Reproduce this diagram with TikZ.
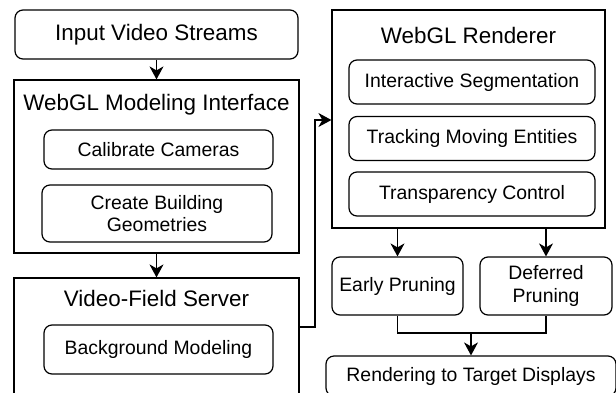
\documentclass[tikz,border=0pt]{standalone}
\usepackage{fontspec}
\setmainfont{Liberation Sans}
\usetikzlibrary{arrows.meta,positioning}

\begin{document}
\begin{tikzpicture}[
            x=1pt, y=-1pt, line width=1.2pt,
            panel/.style={draw, rectangle, inner sep=0pt},
            stagebox/.style={draw, rectangle, rounded corners=8pt, align=center, inner sep=0pt, font=\fontsize{19.4}{22.4}\selectfont},
            headtext/.style={inner sep=0pt, font=\fontsize{22.4}{26}\selectfont},
            flow/.style={-{Stealth[length=13pt, width=14pt, inset=4pt]}}
        ]
            \useasboundingbox (0,0) rectangle (616,392);
            \clip (0,0) rectangle (616,392);

            % left column
            \node[stagebox, minimum width=283pt, minimum height=49pt, font=\fontsize{22.4}{26}\selectfont] (in) at (156.5,34.5) {Input Video Streams};
            \node[panel, minimum width=285pt, minimum height=173pt] (mi) at (156.5,166.5) {};
            \node[headtext] (mit) at (156.5,105) {WebGL Modeling Interface};
            \node[stagebox, minimum width=229pt, minimum height=39pt] (cc) at (158.5,149.5) {Calibrate Cameras};
            \node[stagebox, minimum width=230pt, minimum height=57pt] (bg) at (157,213.5) {Create Building\\Geometries};
            \node[panel, minimum width=285pt, minimum height=124pt] (vs) at (156.5,340) {};
            \node[headtext] (vst) at (156.5,298) {Video-Field Server};
            \node[stagebox, minimum width=229pt, minimum height=49pt] (bm) at (158.5,349.5) {Background Modeling};

            % right column
            \node[panel, minimum width=273pt, minimum height=218pt] (wr) at (468.5,119) {};
            \node[headtext] (wrt) at (468.5,35) {WebGL Renderer};
            \node[stagebox, minimum width=246pt, minimum height=44pt] (is) at (472,82) {Interactive Segmentation};
            \node[stagebox, minimum width=246pt, minimum height=44pt] (tm) at (472,138.5) {Tracking Moving Entities};
            \node[stagebox, minimum width=246pt, minimum height=44pt] (tc) at (472,194) {Transparency Control};
            \node[stagebox, minimum width=131pt, minimum height=58pt] (ep) at (397.5,286) {Early Pruning};
            \node[stagebox, minimum width=132pt, minimum height=58pt] (dp) at (546,286) {Deferred\\Pruning};
            \node[stagebox, minimum width=290pt, minimum height=40pt] (rt) at (471,376) {Rendering to Target Displays};

            \coordinate (up) at (315,120);
            \coordinate (join) at (471,333);

            \draw[flow] (in) -- (mi);
            \draw[flow] (mi) -- (vs);
            \draw[flow] ([yshift=13pt]vs.east) -| (up) -- (up -| wr.west);
            \draw[flow] (wr.south -| ep) -- (ep);
            \draw[flow] (wr.south -| dp) -- (dp);
            \draw (ep.south) |- (join) -| (dp.south);
            \draw[flow] (join) -- (rt);
        \end{tikzpicture}
\end{document}
